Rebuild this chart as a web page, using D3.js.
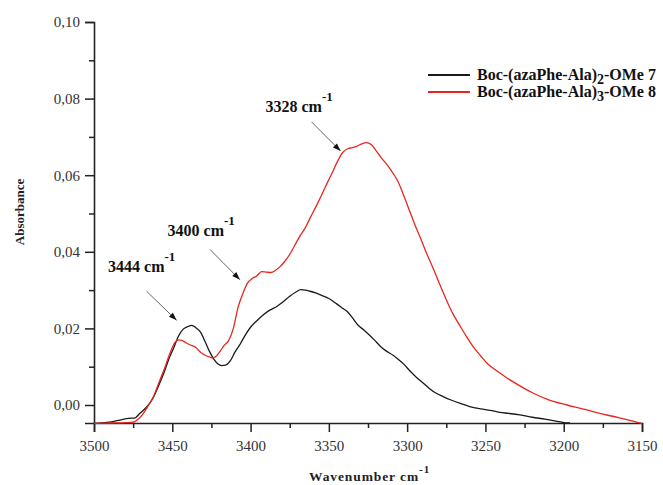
<!DOCTYPE html>
<html><head><meta charset="utf-8">
<script src="https://cdn.jsdelivr.net/npm/d3@7"></script>
<style>
html,body{margin:0;padding:0;background:#fff;}
svg{display:block;}
svg text{font-family:"Liberation Serif","Times New Roman",serif !important;}
</style></head>
<body>
<script>
// ---- data ----
const xTicks = [3500,3450,3400,3350,3300,3250,3200,3150];
const yTicks = [0.00,0.02,0.04,0.06,0.08,0.10];
const seriesNames = ["Boc-(azaPhe-Ala)", "Boc-(azaPhe-Ala)"];
const seriesSubs = ["2","3"];
const seriesSuffix = ["-OMe 7","-OMe 8"];
const seriesColors = ["#1a1a1a","#e8261e"];

const blackWn = [3500,3490,3482,3478,3474,3470.5,3467,3463,3459,3455.5,3452,3449,3446,3443,3440,3437.5,3435,3432,3429,3426,3423.5,3421,3418.5,3416,3413,3410,3406.5,3403,3400,3396,3392,3388,3383,3379,3375,3371,3368,3365,3362,3358,3354,3350,3345,3341,3338,3335,3331,3328,3325,3321,3317,3313,3309,3306,3302,3298,3294,3290,3286,3282,3277,3272,3266,3260,3253,3247,3241,3235,3228,3220,3212,3205,3200,3196];
const blackAbs = [-0.0048,-0.0045,-0.0038,-0.0035,-0.0034,-0.0021,-0.0008,0.0013,0.0048,0.0082,0.0122,0.0150,0.0180,0.0198,0.0205,0.0208,0.0202,0.0190,0.0165,0.0138,0.0120,0.0108,0.0103,0.0104,0.0115,0.0138,0.0160,0.0185,0.0203,0.0220,0.0235,0.0247,0.0258,0.0270,0.0284,0.0295,0.0301,0.0300,0.0297,0.0292,0.0285,0.0278,0.0264,0.0252,0.0243,0.0228,0.0207,0.0197,0.0186,0.0170,0.0153,0.0140,0.0130,0.0120,0.0106,0.0088,0.0072,0.0058,0.0044,0.0032,0.0022,0.0013,0.0004,-0.0004,-0.0010,-0.0014,-0.0019,-0.0022,-0.0026,-0.0032,-0.0037,-0.0042,-0.0046,-0.0047];

const redWn = [3500,3490,3480,3475,3472.5,3469,3466,3462,3458,3455,3451.5,3448.5,3446,3444,3441,3438,3435,3432,3429,3426,3424,3422,3419.5,3417,3414,3411,3408,3405,3402,3399,3396,3393,3390,3387,3384,3381,3378,3375,3372,3368.5,3365,3362,3358,3355,3351,3348,3344,3341,3338,3335,3332,3329,3326,3323,3320,3317,3313,3309,3306,3302,3298,3295,3292,3288,3283,3279,3275,3271,3266,3262,3258,3253,3249,3243,3236,3228,3220,3210,3198,3188,3177,3165,3157,3150];
const redAbs = [-0.0048,-0.0047,-0.0046,-0.0045,-0.0039,-0.0025,-0.0006,0.0022,0.0064,0.0095,0.0135,0.0162,0.0170,0.0169,0.0162,0.0156,0.0150,0.0138,0.0130,0.0125,0.0123,0.0127,0.0140,0.0155,0.0168,0.0200,0.0255,0.0290,0.0318,0.0330,0.0337,0.0348,0.0347,0.0346,0.0352,0.0362,0.0376,0.0393,0.0415,0.0441,0.0463,0.0488,0.0520,0.0545,0.0580,0.0605,0.0640,0.0660,0.0669,0.0672,0.0676,0.0682,0.0685,0.0680,0.0665,0.0648,0.0628,0.0605,0.0585,0.0545,0.0502,0.0470,0.0441,0.0400,0.0353,0.0313,0.0275,0.0240,0.0205,0.0178,0.0153,0.0128,0.0109,0.0090,0.0070,0.0050,0.0032,0.0014,0.0000,-0.0010,-0.0022,-0.0033,-0.0041,-0.0048];

// annotations (data units): label anchor, arrow start, arrow end
const annLabels = ["3444 cm","3400 cm","3328 cm"];
const annLabelWn = [3491, 3453, 3390.5];
const annLabelAbs = [0.0346, 0.0442, 0.0764];
const annFromWn = [3466.4, 3425.9, 3361];
const annFromAbs = [0.0297, 0.0406, 0.0739];
const annToWn = [3447.2, 3406.8, 3342.5];
const annToAbs = [0.0221, 0.0327, 0.0663];

// ---- layout ----
const W = 663, H = 485;
const m = {left:94, right:21, top:22, bottom:62};
const SERIF = "'Liberation Serif','Times New Roman',serif";
const svg = d3.select("body").append("svg").attr("width",W).attr("height",H);

const x = d3.scaleLinear().domain([3500,3150]).range([m.left, W-m.right]);
const y = d3.scaleLinear().domain([-0.0047,0.10]).range([H-m.bottom, m.top]);

const fmt = v => d3.format(".2f")(v).replace(".", ",");

// y axis
const yMinor = d3.range(0.01,0.10,0.02);
const gy = svg.append("g").attr("transform",`translate(${m.left},0)`);
gy.call(d3.axisLeft(y).tickValues(yTicks).tickFormat(fmt).tickSize(9).tickPadding(5));
gy.append("g").call(d3.axisLeft(y).tickValues(yMinor).tickFormat("").tickSize(5)).select(".domain").remove();
// x axis
const xMinor = d3.range(3475,3150,-50);
const gx = svg.append("g").attr("transform",`translate(0,${H-m.bottom})`);
gx.call(d3.axisBottom(x).tickValues(xTicks).tickFormat(d3.format("d")).tickSize(9).tickPadding(8));
gx.append("g").call(d3.axisBottom(x).tickValues(xMinor).tickFormat("").tickSize(5)).select(".domain").remove();

svg.selectAll("g").attr("font-family", SERIF);
svg.selectAll(".domain").attr("stroke","#222").attr("stroke-width",1.6);
svg.selectAll(".tick line").attr("stroke","#222").attr("stroke-width",1.5);
svg.selectAll(".tick text").style("font-family",SERIF).attr("font-size",15).attr("fill","#333");

// axis titles
svg.append("text").attr("transform","translate(24,212) rotate(-90)").attr("text-anchor","middle")
  .style("font-family",SERIF).attr("font-size",13).attr("font-weight","bold").attr("fill","#222").text("Absorbance");
const xt = svg.append("text").attr("x",309).attr("y",481).attr("font-size",13.5).attr("font-weight","bold")
  .style("font-family",SERIF).attr("fill","#222").attr("letter-spacing","0.9");
xt.append("tspan").text("Wavenumber cm");
xt.append("tspan").attr("dy",-8).attr("font-size",11).text("-1");

// curves
const line = d3.line().x(d=>x(d[0])).y(d=>y(d[1])).curve(d3.curveMonotoneX);
const blackData = blackWn.map((w,i)=>[w,blackAbs[i]]);
const redData = redWn.map((w,i)=>[w,redAbs[i]]);
svg.append("path").datum(blackData).attr("d",line).attr("fill","none").attr("stroke",seriesColors[0]).attr("stroke-width",1.3);
svg.append("path").datum(redData).attr("d",line).attr("fill","none").attr("stroke",seriesColors[1]).attr("stroke-width",1.3);

// arrowhead
svg.append("defs").append("marker").attr("id","ah").attr("viewBox","0 0 10 10").attr("refX",10).attr("refY",5)
  .attr("markerWidth",10).attr("markerHeight",8).attr("markerUnits","userSpaceOnUse").attr("orient","auto")
  .append("path").attr("d","M0,1.5 L10,5 L0,8.5 Z").attr("fill","#111");

annLabels.forEach((t,i)=>{
  const tx = svg.append("text").attr("x",x(annLabelWn[i])).attr("y",y(annLabelAbs[i]))
    .style("font-family",SERIF).attr("font-size",16).attr("font-weight","bold").attr("fill","#111");
  tx.append("tspan").text(t);
  tx.append("tspan").attr("dy",-11).attr("font-size",13).text("-1");
  svg.append("line").attr("x1",x(annFromWn[i])).attr("y1",y(annFromAbs[i]))
    .attr("x2",x(annToWn[i])).attr("y2",y(annToAbs[i]))
    .attr("stroke","#666").attr("stroke-width",1).attr("marker-end","url(#ah)");
});

// legend
const legY = [75, 92];
seriesNames.forEach((n,i)=>{
  svg.append("line").attr("x1",428).attr("x2",470).attr("y1",legY[i]).attr("y2",legY[i])
    .attr("stroke",seriesColors[i]).attr("stroke-width",2);
  const t = svg.append("text").attr("x",477).attr("y",legY[i]+5).style("font-family",SERIF)
    .attr("font-size",16).attr("font-weight","bold").attr("fill","#111");
  t.append("tspan").text(n);
  t.append("tspan").attr("dy",4).attr("font-size",14).text(seriesSubs[i]);
  t.append("tspan").attr("dy",-4).text(seriesSuffix[i]);
});
</script>
</body></html>
